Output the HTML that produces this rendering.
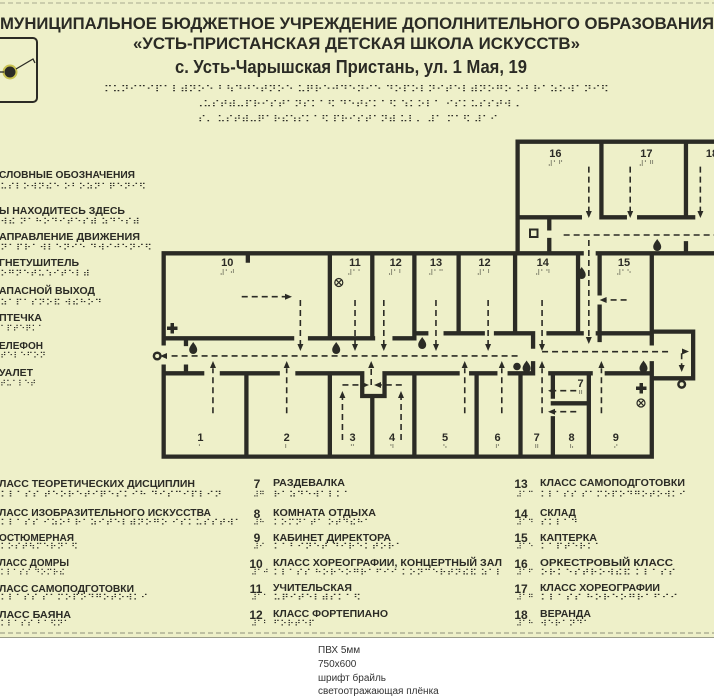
<!DOCTYPE html>
<html><head><meta charset="utf-8"><style>
html,body{margin:0;padding:0;background:#fff;}
svg{display:block;}
.t{font-family:"Liberation Sans",sans-serif;font-weight:bold;fill:#2b2b25;}
.b{font-family:"DejaVu Sans",sans-serif;fill:#2b2b25;}
</style></head><body>
<svg width="714" height="696" viewBox="0 0 714 696" xmlns="http://www.w3.org/2000/svg">
<rect x="0" y="0" width="714" height="638" fill="#eef0c9"/>
<line x1="0" y1="3" x2="714" y2="3" stroke="#a8aa90" stroke-dasharray="5,3" stroke-width="1"/>
<line x1="0" y1="633" x2="714" y2="633" stroke="#8e907a" stroke-dasharray="5,3" stroke-width="1"/>
<line x1="0" y1="637.5" x2="714" y2="637.5" stroke="#9a9c88" stroke-width="1"/>

<!-- header -->
<text class="t" x="0" y="29" font-size="17" textLength="714" lengthAdjust="spacingAndGlyphs">МУНИЦИПАЛЬНОЕ БЮДЖЕТНОЕ УЧРЕЖДЕНИЕ ДОПОЛНИТЕЛЬНОГО ОБРАЗОВАНИЯ</text>
<text class="t" x="133" y="49" font-size="17" textLength="447" lengthAdjust="spacingAndGlyphs">«УСТЬ-ПРИСТАНСКАЯ ДЕТСКАЯ ШКОЛА ИСКУССТВ»</text>
<text class="t" x="175" y="73" font-size="18" textLength="352" lengthAdjust="spacingAndGlyphs">с. Усть-Чарышская Пристань, ул. 1 Мая, 19</text>
<text class="b" x="104" y="92" font-size="9" textLength="505" lengthAdjust="spacingAndGlyphs">⠍⠥⠝⠊⠉⠊⠏⠁⠇⠾⠝⠕⠑ ⠃⠳⠙⠚⠑⠞⠝⠕⠑ ⠥⠟⠗⠑⠚⠙⠑⠝⠊⠑ ⠙⠕⠏⠕⠇⠝⠊⠞⠑⠇⠾⠝⠕⠛⠕ ⠕⠃⠗⠁⠵⠕⠺⠁⠝⠊⠫</text>
<text class="b" x="195" y="107" font-size="9" textLength="325" lengthAdjust="spacingAndGlyphs">⠠⠥⠎⠞⠾⠤⠏⠗⠊⠎⠞⠁⠝⠎⠅⠁⠫ ⠙⠑⠞⠎⠅⠁⠫ ⠱⠅⠕⠇⠁ ⠊⠎⠅⠥⠎⠎⠞⠺⠠</text>
<text class="b" x="198" y="122" font-size="9" textLength="300" lengthAdjust="spacingAndGlyphs">⠎⠄ ⠥⠎⠞⠾⠤⠟⠁⠗⠮⠱⠎⠅⠁⠫ ⠏⠗⠊⠎⠞⠁⠝⠾ ⠥⠇⠄ ⠼⠁ ⠍⠁⠫ ⠼⠁⠊</text>

<!-- logo -->
<rect x="-10" y="38" width="47" height="64" rx="4" fill="none" stroke="#2b2b25" stroke-width="2"/>
<circle cx="10" cy="72" r="6.5" fill="#2b2b25" stroke="#c8c250" stroke-width="2"/>
<polyline points="16,69 33,59 35,63" fill="none" stroke="#2b2b25" stroke-width="1.3"/>
<line x1="0" y1="72" x2="4" y2="72" stroke="#2b2b25" stroke-width="1.3"/>

<!-- left legend -->
<g class="t" font-size="10.5">
<text x="-1" y="178" textLength="136" lengthAdjust="spacingAndGlyphs">СЛОВНЫЕ ОБОЗНАЧЕНИЯ</text>
<text x="-1" y="214" textLength="126" lengthAdjust="spacingAndGlyphs">Ы НАХОДИТЕСЬ ЗДЕСЬ</text>
<text x="-1" y="240" textLength="141" lengthAdjust="spacingAndGlyphs">АПРАВЛЕНИЕ ДВИЖЕНИЯ</text>
<text x="-1" y="266" textLength="80" lengthAdjust="spacingAndGlyphs">ГНЕТУШИТЕЛЬ</text>
<text x="-1" y="294" textLength="96" lengthAdjust="spacingAndGlyphs">АПАСНОЙ ВЫХОД</text>
<text x="-1" y="321" textLength="43" lengthAdjust="spacingAndGlyphs">ПТЕЧКА</text>
<text x="-1" y="349" textLength="44" lengthAdjust="spacingAndGlyphs">ЕЛЕФОН</text>
<text x="-1" y="376" textLength="34" lengthAdjust="spacingAndGlyphs">УАЛЕТ</text>
</g>
<g class="b" font-size="8">
<text x="0" y="189" textLength="146" lengthAdjust="spacingAndGlyphs">⠥⠎⠇⠕⠺⠝⠮⠑ ⠕⠃⠕⠵⠝⠁⠟⠑⠝⠊⠫</text>
<text x="0" y="224" textLength="140" lengthAdjust="spacingAndGlyphs">⠺⠮ ⠝⠁⠓⠕⠙⠊⠞⠑⠎⠾ ⠵⠙⠑⠎⠾</text>
<text x="0" y="250" textLength="152" lengthAdjust="spacingAndGlyphs">⠝⠁⠏⠗⠁⠺⠇⠑⠝⠊⠑ ⠙⠺⠊⠚⠑⠝⠊⠫</text>
<text x="0" y="276" textLength="90" lengthAdjust="spacingAndGlyphs">⠕⠛⠝⠑⠞⠥⠱⠊⠞⠑⠇⠾</text>
<text x="0" y="305" textLength="102" lengthAdjust="spacingAndGlyphs">⠵⠁⠏⠁⠎⠝⠕⠯ ⠺⠮⠓⠕⠙</text>
<text x="0" y="331" textLength="44" lengthAdjust="spacingAndGlyphs">⠁⠏⠞⠑⠟⠅⠁</text>
<text x="0" y="358" textLength="46" lengthAdjust="spacingAndGlyphs">⠞⠑⠇⠑⠋⠕⠝</text>
<text x="0" y="386" textLength="36" lengthAdjust="spacingAndGlyphs">⠞⠥⠁⠇⠑⠞</text>
</g>

<!-- floor plan walls (zoom coords) -->
<g transform="translate(150,140) scale(0.3597,0.3333)" fill="none" stroke="#2b2b25" stroke-width="4.3" stroke-linecap="square">
<path vector-effect="non-scaling-stroke" d="
M38,610 V340 H1200 M1245,340 H1700
M38,680 V950 H1395 V670
M1395,610 V340
M1395,575 H1510 V715 H1395
M1022,340 V5 H1700
M1022,232 H1195 M1255,232 H1320 M1360,232 H1490 M1490,232 H1510
M1255,5 V232 M1490,5 V232 M1490,310 V340
M1110,232 V265 M1110,300 V340
M38,595 H395 M445,595 H620 M680,595 H735 M740,580 H768 M822,580 H925 M962,580 H1065 V620 M1108,580 H1200 M1245,580 H1395
M500,340 V595 M618,340 V595 M735,340 V595 M858,340 V580 M1015,340 V580 M1190,340 V580 M1250,340 V460 M1250,500 V600
M100,600 V612 M100,680 V695 M272,345 V362
M38,700 H145 M200,700 H355 M410,700 H590 V768 H652 V700 H855 M893,700 H960 M1000,700 H1065 V670 M1113,700 H1225 M1270,700 H1395
M268,700 V950 M500,700 V950 M618,768 V950 M735,700 V950 M908,700 V950 M1030,700 V950
M1120,700 V770 M1120,835 V950 M1120,790 H1220 M1220,700 V950
"/>
</g>

<!-- dashed routes -->
<g transform="translate(150,140) scale(0.3597,0.3333)" fill="none" stroke="#2b2b25">
<path vector-effect="non-scaling-stroke" stroke-width="1.6" stroke-dasharray="6,4" d="
M60,648 H1030
M1090,635 H1445 M1478,640 V690
M418,480 V620 M255,470 H380 M570,480 V620 M650,480 V620 M795,480 V620 M940,480 V620 M1090,480 V620
M175,820 V685 M380,820 V685 M875,820 V685 M978,820 V685 M1090,820 V685 M1255,820 V685 M615,735 V685
M535,900 V770 M698,900 V770 M535,735 H590 M700,735 H640
M1185,752 H1125 M1185,815 H1125 M1325,480 H1265
M1220,80 V215 M1335,80 V215 M1530,80 V215 M1220,300 V595 M1150,285 H1700
"/>
</g>
<!-- arrowheads -->
<g fill="#2b2b25">
<polygon points="160,356 167,353 167,359"/>
<polygon points="689,351.5 682,348.5 682,354.5"/>
<polygon points="681.7,372 678.7,365 684.7,365"/>
<polygon points="292,296.7 285,293.7 285,299.7"/>
<polygon points="300.4,351 297.4,344 303.4,344"/>
<polygon points="355,351 352,344 358,344"/>
<polygon points="383.8,351 380.8,344 386.8,344"/>
<polygon points="436,351 433,344 439,344"/>
<polygon points="488.1,351 485.1,344 491.1,344"/>
<polygon points="542,351 539,344 545,344"/>
<polygon points="588.8,344 585.8,337 591.8,337"/>
<polygon points="588.8,218 585.8,211 591.8,211"/>
<polygon points="630.2,218 627.2,211 633.2,211"/>
<polygon points="700.4,218 697.4,211 703.4,211"/>
<polygon points="213,361 210,368 216,368"/>
<polygon points="286.7,361 283.7,368 289.7,368"/>
<polygon points="464.7,361 461.7,368 467.7,368"/>
<polygon points="501.8,361 498.8,368 504.8,368"/>
<polygon points="542,361 539,368 545,368"/>
<polygon points="601.4,361 598.4,368 604.4,368"/>
<polygon points="371.2,361 368.2,368 374.2,368"/>
<polygon points="342.4,391 339.4,398 345.4,398"/>
<polygon points="401,391 398,398 404,398"/>
<polygon points="369,385 362,382 362,388"/>
<polygon points="374,385 381,382 381,388"/>
<polygon points="548,390.7 555,387.7 555,393.7"/>
<polygon points="548,411.7 555,408.7 555,414.7"/>
<polygon points="599.6,300 606.6,297 606.6,303"/>
</g>

<!-- symbols -->
<g fill="#2b2b25">
<path id="drop" d="M0,-6 C2,-3 4,-1 4,2 A4,4 0 0 1 -4,2 C-4,-1 -2,-3 0,-6Z" transform="translate(193.2,348)"/>
<use href="#drop" x="143" y="0"/>
<use href="#drop" x="229" y="-5"/>
<use href="#drop" x="333.4" y="18.5"/>
<use href="#drop" x="388.5" y="-75"/>
<use href="#drop" x="450.3" y="18.5"/>
<use href="#drop" x="464" y="-103"/>
<circle cx="517" cy="366.5" r="3.8"/>
<path d="M167,326.5h3.5v-3.5h3.5v3.5h3.5v3.5h-3.5v3.5h-3.5v-3.5h-3.5z"/>
<path d="M636,386.5h3.5v-3.5h3.5v3.5h3.5v3.5h-3.5v3.5h-3.5v-3.5h-3.5z"/>
</g>
<g fill="none" stroke="#2b2b25" stroke-width="1.2">
<circle cx="338.8" cy="282.5" r="4"/><path d="M336,279.7l5.6,5.6M341.6,279.7l-5.6,5.6"/>
<circle cx="641" cy="403" r="4"/><path d="M638.2,400.2l5.6,5.6M643.8,400.2l-5.6,5.6"/>
</g>
<g fill="none" stroke="#2b2b25" stroke-width="2.5">
<circle cx="157.2" cy="356" r="3.3"/>
<circle cx="681.7" cy="384.3" r="3.3"/>
<rect x="530" y="229.5" width="7.5" height="7.5" stroke-width="2"/>
</g>

<!-- room numbers -->
<g class="t" font-size="11" text-anchor="middle">
<text x="227.3" y="266">10</text><text x="355" y="266">11</text><text x="395.7" y="266">12</text><text x="436" y="266">13</text><text x="484.5" y="266">12</text><text x="542.8" y="266">14</text><text x="624" y="266">15</text>
<text x="555.4" y="157">16</text><text x="646.4" y="157">17</text><text x="712" y="157">18</text>
<text x="200.4" y="441">1</text><text x="286.7" y="441">2</text><text x="352.5" y="441">3</text><text x="392" y="441">4</text><text x="445" y="441">5</text><text x="497.5" y="441">6</text><text x="536.7" y="441">7</text><text x="571.6" y="441">8</text><text x="615.8" y="441">9</text><text x="580.6" y="387">7</text>
</g>
<g class="b" font-size="7" text-anchor="middle">
<text x="227.3" y="275">⠼⠁⠚</text><text x="355" y="275">⠼⠁⠁</text><text x="395.7" y="275">⠼⠁⠃</text><text x="436" y="275">⠼⠁⠉</text><text x="484.5" y="275">⠼⠁⠃</text><text x="542.8" y="275">⠼⠁⠙</text><text x="624" y="275">⠼⠁⠑</text>
<text x="555.4" y="166">⠼⠁⠋</text><text x="646.4" y="166">⠼⠁⠛</text>
<text x="200.4" y="450">⠁</text><text x="286.7" y="450">⠃</text><text x="352.5" y="450">⠉</text><text x="392" y="450">⠙</text><text x="445" y="450">⠑</text><text x="497.5" y="450">⠋</text><text x="536.7" y="450">⠛</text><text x="571.6" y="450">⠓</text><text x="615.8" y="450">⠊</text><text x="580.6" y="396">⠛</text>
</g>

<!-- bottom legend -->
<g class="t" font-size="10.5">
<text x="-1" y="487" textLength="196" lengthAdjust="spacingAndGlyphs">ЛАСС ТЕОРЕТИЧЕСКИХ ДИСЦИПЛИН</text>
<text x="-1" y="516" textLength="212" lengthAdjust="spacingAndGlyphs">ЛАСС ИЗОБРАЗИТЕЛЬНОГО ИСКУССТВА</text>
<text x="-1" y="541" textLength="75" lengthAdjust="spacingAndGlyphs">ОСТЮМЕРНАЯ</text>
<text x="-1" y="566" textLength="70" lengthAdjust="spacingAndGlyphs">ЛАСС ДОМРЫ</text>
<text x="-1" y="592" textLength="135" lengthAdjust="spacingAndGlyphs">ЛАСС САМОПОДГОТОВКИ</text>
<text x="-1" y="618" textLength="72" lengthAdjust="spacingAndGlyphs">ЛАСС БАЯНА</text>
<g font-size="12" text-anchor="middle"><text x="257" y="488">7</text><text x="257" y="518">8</text><text x="257" y="542">9</text><text x="256" y="568">10</text><text x="256" y="593">11</text><text x="256" y="619">12</text>
<text x="521" y="488">13</text><text x="521" y="518">14</text><text x="521" y="542">15</text><text x="521" y="568">16</text><text x="521" y="593">17</text><text x="521" y="619">18</text></g>
<text x="273" y="486" textLength="72" lengthAdjust="spacingAndGlyphs">РАЗДЕВАЛКА</text>
<text x="273" y="516" textLength="103" lengthAdjust="spacingAndGlyphs">КОМНАТА ОТДЫХА</text>
<text x="273" y="541" textLength="118" lengthAdjust="spacingAndGlyphs">КАБИНЕТ ДИРЕКТОРА</text>
<text x="273" y="566" textLength="229" lengthAdjust="spacingAndGlyphs">КЛАСС ХОРЕОГРАФИИ, КОНЦЕРТНЫЙ ЗАЛ</text>
<text x="273" y="591" textLength="79" lengthAdjust="spacingAndGlyphs">УЧИТЕЛЬСКАЯ</text>
<text x="273" y="617" textLength="115" lengthAdjust="spacingAndGlyphs">КЛАСС ФОРТЕПИАНО</text>
<text x="540" y="486" textLength="145" lengthAdjust="spacingAndGlyphs">КЛАСС САМОПОДГОТОВКИ</text>
<text x="540" y="516" textLength="36" lengthAdjust="spacingAndGlyphs">СКЛАД</text>
<text x="540" y="541" textLength="57" lengthAdjust="spacingAndGlyphs">КАПТЕРКА</text>
<text x="540" y="566" textLength="133" lengthAdjust="spacingAndGlyphs">ОРКЕСТРОВЫЙ КЛАСС</text>
<text x="540" y="591" textLength="120" lengthAdjust="spacingAndGlyphs">КЛАСС ХОРЕОГРАФИИ</text>
<text x="540" y="617" textLength="51" lengthAdjust="spacingAndGlyphs">ВЕРАНДА</text>
</g>
<g class="b" font-size="8">
<text x="0" y="497" textLength="222" lengthAdjust="spacingAndGlyphs">⠅⠇⠁⠎⠎ ⠞⠑⠕⠗⠑⠞⠊⠟⠑⠎⠅⠊⠓ ⠙⠊⠎⠉⠊⠏⠇⠊⠝</text>
<text x="0" y="525" textLength="242" lengthAdjust="spacingAndGlyphs">⠅⠇⠁⠎⠎ ⠊⠵⠕⠃⠗⠁⠵⠊⠞⠑⠇⠾⠝⠕⠛⠕ ⠊⠎⠅⠥⠎⠎⠞⠺⠁</text>
<text x="0" y="549" textLength="78" lengthAdjust="spacingAndGlyphs">⠅⠕⠎⠞⠳⠍⠑⠗⠝⠁⠫</text>
<text x="0" y="575" textLength="65" lengthAdjust="spacingAndGlyphs">⠅⠇⠁⠎⠎ ⠙⠕⠍⠗⠮</text>
<text x="0" y="600" textLength="148" lengthAdjust="spacingAndGlyphs">⠅⠇⠁⠎⠎ ⠎⠁⠍⠕⠏⠕⠙⠛⠕⠞⠕⠺⠅⠊</text>
<text x="0" y="626" textLength="70" lengthAdjust="spacingAndGlyphs">⠅⠇⠁⠎⠎ ⠃⠁⠫⠝⠁</text>
<text x="253" y="497">⠼⠛</text><text x="253" y="525">⠼⠓</text><text x="253" y="549">⠼⠊</text><text x="251" y="575">⠼⠁⠚</text><text x="251" y="600">⠼⠁⠁</text><text x="251" y="626">⠼⠁⠃</text>
<text x="516" y="497">⠼⠁⠉</text><text x="516" y="525">⠼⠁⠙</text><text x="516" y="549">⠼⠁⠑</text><text x="516" y="575">⠼⠁⠋</text><text x="516" y="600">⠼⠁⠛</text><text x="516" y="626">⠼⠁⠓</text>
<text x="273" y="497" textLength="78" lengthAdjust="spacingAndGlyphs">⠗⠁⠵⠙⠑⠺⠁⠇⠅⠁</text>
<text x="273" y="525" textLength="98" lengthAdjust="spacingAndGlyphs">⠅⠕⠍⠝⠁⠞⠁ ⠕⠞⠙⠮⠓⠁</text>
<text x="273" y="549" textLength="130" lengthAdjust="spacingAndGlyphs">⠅⠁⠃⠊⠝⠑⠞ ⠙⠊⠗⠑⠅⠞⠕⠗⠁</text>
<text x="273" y="575" textLength="230" lengthAdjust="spacingAndGlyphs">⠅⠇⠁⠎⠎ ⠓⠕⠗⠑⠕⠛⠗⠁⠋⠊⠊ ⠅⠕⠝⠉⠑⠗⠞⠝⠮⠯ ⠵⠁⠇</text>
<text x="273" y="600" textLength="88" lengthAdjust="spacingAndGlyphs">⠥⠟⠊⠞⠑⠇⠾⠎⠅⠁⠫</text>
<text x="273" y="626" textLength="42" lengthAdjust="spacingAndGlyphs">⠋⠕⠗⠞⠑⠏</text>
<text x="540" y="497" textLength="146" lengthAdjust="spacingAndGlyphs">⠅⠇⠁⠎⠎ ⠎⠁⠍⠕⠏⠕⠙⠛⠕⠞⠕⠺⠅⠊</text>
<text x="540" y="525" textLength="38" lengthAdjust="spacingAndGlyphs">⠎⠅⠇⠁⠙</text>
<text x="540" y="549" textLength="62" lengthAdjust="spacingAndGlyphs">⠅⠁⠏⠞⠑⠗⠅⠁</text>
<text x="540" y="575" textLength="136" lengthAdjust="spacingAndGlyphs">⠕⠗⠅⠑⠎⠞⠗⠕⠺⠮⠯ ⠅⠇⠁⠎⠎</text>
<text x="540" y="600" textLength="138" lengthAdjust="spacingAndGlyphs">⠅⠇⠁⠎⠎ ⠓⠕⠗⠑⠕⠛⠗⠁⠋⠊⠊</text>
<text x="540" y="626" textLength="50" lengthAdjust="spacingAndGlyphs">⠺⠑⠗⠁⠝⠙⠁</text>
</g>

<!-- footer -->
<g font-family="Liberation Sans, sans-serif" font-size="10" fill="#333">
<text x="318" y="653">ПВХ 5мм</text>
<text x="318" y="667">750x600</text>
<text x="318" y="681">шрифт брайль</text>
<text x="318" y="694">светоотражающая плёнка</text>
</g>
</svg>
</body></html>
